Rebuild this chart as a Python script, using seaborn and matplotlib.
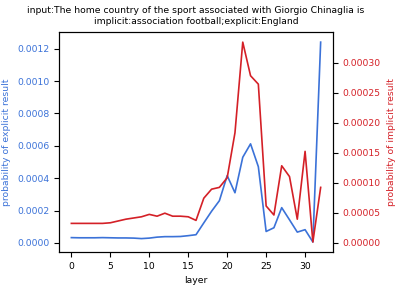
import numpy as np
import pandas as pd
import matplotlib
matplotlib.use('Agg')
import matplotlib.pyplot as plt
import seaborn as sns

layers = list(range(33))
explicit = [0.000033, 0.000032, 0.000032, 0.000032, 0.000033, 0.000032, 0.000031, 0.000031,
            0.000030, 0.000027, 0.000030, 0.000036, 0.000039, 0.000039, 0.000040, 0.000045,
            0.000051, 0.000124, 0.000196, 0.000261, 0.000416, 0.000310, 0.000529, 0.000612,
            0.000471, 0.000071, 0.000094, 0.000218, 0.000143, 0.000067, 0.000082, 0.000006,
            0.001240]
implicit = [0.000032, 0.000032, 0.000032, 0.000032, 0.000032, 0.000033, 0.000036, 0.000039,
            0.000041, 0.000043, 0.000047, 0.000044, 0.000049, 0.000044, 0.000044, 0.000043,
            0.000037, 0.000074, 0.000089, 0.000092, 0.000108, 0.000183, 0.000334, 0.000278,
            0.000264, 0.000061, 0.000046, 0.000128, 0.000110, 0.000039, 0.000152, 0.000001,
            0.000092]

df = pd.DataFrame({'layer': layers, 'explicit': explicit, 'implicit': implicit})

blue = '#3b72d8'
red = '#d42027'
fs = 6.7

plt.rcParams['font.size'] = fs
fig, ax = plt.subplots(figsize=(3.98, 2.87), dpi=100)
sns.lineplot(x='layer', y='explicit', data=df, ax=ax, color=blue, linewidth=1.2)
ax.set_xlabel('layer', fontsize=fs)
ax.set_ylabel('probability of explicit result', color=blue, fontsize=fs)
ax.tick_params(axis='y', labelcolor=blue, labelsize=fs)
ax.tick_params(axis='x', labelsize=fs)
ax.set_xticks([0, 5, 10, 15, 20, 25, 30])
ax.set_yticks([0, 0.0002, 0.0004, 0.0006, 0.0008, 0.0010, 0.0012])
ax.set_yticklabels(['0.0000', '0.0002', '0.0004', '0.0006', '0.0008', '0.0010', '0.0012'])

ax2 = ax.twinx()
sns.lineplot(x='layer', y='implicit', data=df, ax=ax2, color=red, linewidth=1.2)
ax2.set_ylabel('probability of implicit result', color=red, fontsize=fs)
ax2.tick_params(axis='y', labelcolor=red, labelsize=fs)
ax2.set_yticks([0, 0.00005, 0.0001, 0.00015, 0.0002, 0.00025, 0.0003])
ax2.set_yticklabels(['0.00000', '0.00005', '0.00010', '0.00015', '0.00020', '0.00025', '0.00030'])

ax.set_title('input:The home country of the sport associated with Giorgio Chinaglia is\n'
             'implicit:association football;explicit:England', fontsize=fs)

fig.subplots_adjust(left=0.148, right=0.837, top=0.888, bottom=0.122)
fig.savefig('out.png', dpi=100)
